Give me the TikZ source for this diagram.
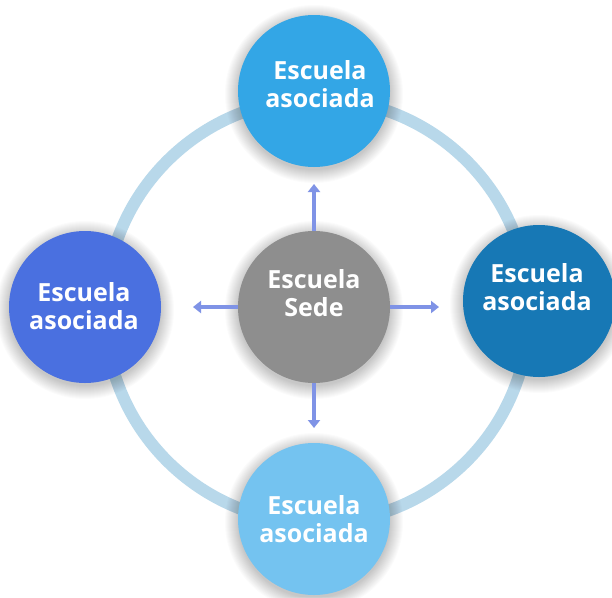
\documentclass[tikz,border=0pt]{standalone}
\usepackage{fontspec}
\setmainfont{Open Sans}
\usetikzlibrary{arrows.meta}
\definecolor{ringc}{HTML}{B8D8EA}
\definecolor{topc}{HTML}{33A6E6}
\definecolor{rightc}{HTML}{1778B5}
\definecolor{leftc}{HTML}{4A70E0}
\definecolor{botc}{HTML}{74C3F0}
\definecolor{cenc}{HTML}{8E8E8E}
\definecolor{arrc}{HTML}{7F93E6}
\tikzset{
  bubble/.style={circle, minimum size=152pt, inner sep=0pt, draw=none},
  lbl/.style={text=white, font=\fontsize{25}{28}\selectfont\bfseries, align=center, inner sep=0pt},
  arr/.style={draw=arrc, line width=4pt, -{Triangle[width=12pt,length=8pt]}},
  softshadow/.style={fill=black, fill opacity=0.016, draw=none}
}
\begin{document}
\begin{tikzpicture}[x=1pt,y=-1pt]
\useasboundingbox[fill=white] (0,0) rectangle (612,597);
\draw[ringc, line width=12pt] (317,311) circle[radius=212];
\foreach \cx/\cy in {314/91, 539/301, 85/307, 314/519, 314/307}{
  \foreach \k in {1,...,14}{
    \fill[softshadow] (\cx,\cy+3) circle[radius=75+\k];
  }
}
\coordinate (tN) at (314,184);
\coordinate (tS) at (314,428);
\coordinate (tW) at (193,307);
\coordinate (tE) at (439,307);
\node[bubble, fill=topc] (T) at (314,91) {};
\node[bubble, fill=rightc] (R) at (539,301) {};
\node[bubble, fill=leftc] (L) at (85,307) {};
\node[bubble, fill=botc] (B) at (314,519) {};
\draw[arr] (314,260) -- (tN);
\draw[arr] (314,350) -- (tS);
\draw[arr] (290,307) -- (tW);
\draw[arr] (340,307) -- (tE);
\node[bubble, fill=cenc] (C) at (314,307) {};
\node[lbl] (tT) at (320,84.5) {Escuela\\asociada};
\node[lbl] (tR) at (537,287.5) {Escuela\\asociada};
\node[lbl] (tL) at (84,306.5) {Escuela\\asociada};
\node[lbl] (tB) at (314,519.5) {Escuela\\asociada};
\node[lbl] (tC) at (314,293.5) {Escuela\\Sede};
\end{tikzpicture}
\end{document}
